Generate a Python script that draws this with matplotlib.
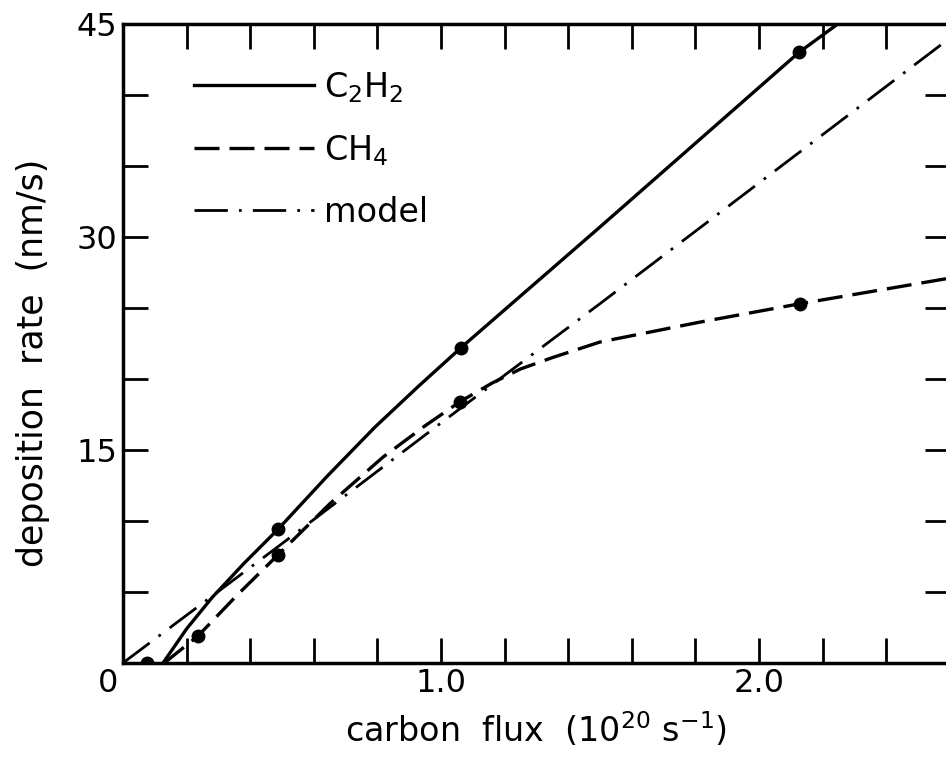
import matplotlib
matplotlib.use("Agg")
import matplotlib.pyplot as plt
import matplotlib.transforms as mtransforms

plt.rcParams['font.family'] = ['DejaVu Sans']
plt.rcParams['mathtext.default'] = 'regular'

# measured points (carbon flux in 1e20/s, deposition rate in nm/s)
c2h2_x = [0.077, 0.487, 1.063, 2.126]
c2h2_y = [0.0, 9.4, 22.2, 43.0]
ch4_x = [0.236, 0.487, 1.06, 2.13]
ch4_y = [1.9, 7.6, 18.4, 25.3]

# curves
c2h2_curve_x = [0.126, 0.2, 0.28, 0.38, 0.487, 0.64, 0.792, 0.93, 1.063, 1.5, 2.126, 2.248]
c2h2_curve_y = [0.0, 2.4, 4.6, 7.0, 9.4, 13.1, 16.6, 19.5, 22.2, 30.7, 43.0, 45.0]
ch4_curve_x = [0.13, 0.236, 0.36, 0.487, 0.65, 0.818, 0.95, 1.06, 1.16, 1.25, 1.35, 1.5, 1.814, 2.13, 2.6]
ch4_curve_y = [0.0, 1.9, 4.8, 7.6, 11.2, 14.5, 16.7, 18.4, 19.7, 20.7, 21.5, 22.6, 24.0, 25.3, 27.1]
model_x = [0.0, 0.5, 1.0, 1.5, 2.0, 2.6]
model_y = [0.0, 8.4, 16.9, 25.3, 33.8, 44.0]

x_ticks = [0.2 * i for i in range(14)]
y_ticks = [5 * i for i in range(10)]

fig = plt.figure(figsize=(9.46, 7.62), dpi=100)
ax = fig.add_axes([0.130, 0.130, 0.874, 0.8386])

ax.plot(c2h2_curve_x, c2h2_curve_y, color='black', lw=2.4, ls='-', label='C$_2$H$_2$')
ax.plot(ch4_curve_x, ch4_curve_y, color='black', lw=2.4, ls=(0, (7.5, 3)), label='CH$_4$')
ax.plot(model_x, model_y, color='black', lw=2.0, ls=(0, (12, 4, 1, 4)), label='model')
ax.plot(c2h2_x, c2h2_y, 'o', color='black', ms=9)
ax.plot(ch4_x, ch4_y, 'o', color='black', ms=9)

ax.set_xlim(0, 2.6)
ax.set_ylim(0, 45)
ax.set_xticks(x_ticks)
ax.set_xticklabels(['0' if i == 0 else ('1.0' if i == 5 else ('2.0' if i == 10 else '')) for i in range(14)])
ax.set_yticks(y_ticks)
ax.set_yticklabels(['' if v == 0 else (str(v) if v % 15 == 0 else '') for v in y_ticks])
ax.tick_params(direction='in', length=18, width=2, top=True, right=True,
               labelsize=23, pad=4)
for s in ax.spines.values():
    s.set_linewidth(2.5)

# shift the "0" label to the lower left of the origin
lbl0 = ax.get_xticklabels()[0]
lbl0.set_transform(lbl0.get_transform() + mtransforms.ScaledTranslation(-0.15, 0, fig.dpi_scale_trans))

ax.set_xlabel('carbon  flux  (10$^{20}$ s$^{-1}$)', fontsize=24, labelpad=8)
ax.set_ylabel('deposition  rate  (nm/s)', fontsize=25)
ax.yaxis.set_label_coords(-0.088, 0.47)

leg = ax.legend(loc='upper left', frameon=False, fontsize=24, handlelength=3.6,
                bbox_to_anchor=(0.05, 0.975), labelspacing=0.85, handletextpad=0.3)

fig.savefig('out.png', dpi=100)
